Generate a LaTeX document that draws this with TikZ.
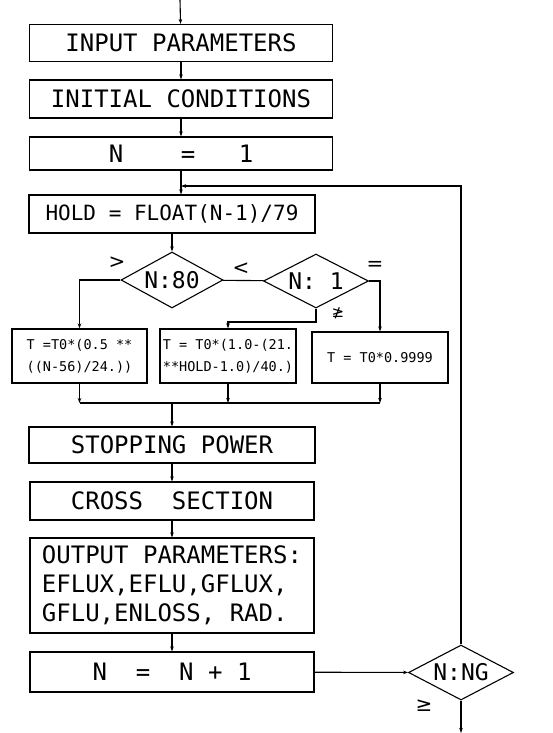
\documentclass[tikz,border=0pt]{standalone}
\usepackage{fontspec}
\setmonofont{DejaVu Sans Mono}
\newfontfamily\symfont{DejaVu Sans}
\usetikzlibrary{positioning, arrows.meta, shapes.geometric}
\begin{document}
\begin{tikzpicture}[x=1pt, y=-1pt, line width=1.1pt, >={Stealth[length=5pt, width=3.5pt]},
    procbox/.style={draw, rectangle, inner sep=0pt, align=center, font=\ttfamily\fontsize{24}{29}\selectfont},
    smallbox/.style={draw, rectangle, inner sep=0pt, align=center, font=\ttfamily\fontsize{13.5}{22}\selectfont},
    testbox/.style={draw, diamond, aspect=1.9, inner sep=0pt, font=\ttfamily\fontsize{23}{25}\selectfont},
    sign/.style={inner sep=0pt, font=\symfont\fontsize{20}{20}\selectfont}]
  \useasboundingbox (0,0) rectangle (553,733);
  \coordinate (start) at (180,0);
  \node[procbox, minimum width=303pt, minimum height=37pt] (inpar) at (181,43) {INPUT PARAMETERS};
  \node[procbox, minimum width=303pt, minimum height=38pt] (incond) at (181,99) {INITIAL CONDITIONS};
  \node[procbox, minimum width=303pt, minimum height=33pt] (nstart) at (181,153.5) {N~~~~=~~~1};
  \node[procbox, minimum width=286pt, minimum height=38pt, font=\ttfamily\fontsize{21}{25}\selectfont] (hold) at (172,214) {HOLD = FLOAT(N-1)/79};
  \node[testbox, minimum width=102pt, minimum height=56pt] (test80) at (172,280) {N:80};
  \node[testbox, minimum width=105pt, minimum height=54pt] (test1) at (316,281) {N: 1};
  \node[smallbox, minimum width=135pt, minimum height=54pt] (tleft) at (79.5,356) {T =T0*(0.5 **\\((N-56)/24.))};
  \node[smallbox, minimum width=136pt, minimum height=54pt] (tmid) at (228,356) {T = T0*(1.0-(21.\\**HOLD-1.0)/40.)};
  \node[smallbox, minimum width=136pt, minimum height=51pt] (tright) at (380,357.5) {T = T0*0.9999};
  \node[procbox, minimum width=286pt, minimum height=36pt] (stop) at (172,445) {STOPPING POWER};
  \node[procbox, minimum width=284pt, minimum height=38pt] (cross) at (172,501) {CROSS~~SECTION};
  \node[procbox, minimum width=284pt, minimum height=95pt, align=left] (output) at (172,585.5) {OUTPUT PARAMETERS:\\EFLUX,EFLU,GFLUX,\\GFLU,ENLOSS, RAD.};
  \node[procbox, minimum width=284pt, minimum height=40pt] (nnext) at (172,672) {N~~=~~N~+~1};
  \node[testbox, minimum width=105pt, minimum height=55pt] (testng) at (461,672.5) {N:NG};
  \coordinate (loop) at (181,186);
  \coordinate (branch) at (228,322);
  \coordinate (merge) at (172,403);
  \coordinate (finish) at (461,733);
  \node[sign] (gt80) at (117,263) {>};
  \node[sign] (lt80) at (241,269) {<};
  \node[sign] (eq1) at (375,266) {=};
  \node[sign, font=\symfont\fontsize{15}{15}\selectfont] (ngeq1) at (338,313) {≱};
  \node[sign] (geng) at (424,706) {≥};
  \draw[->] (start) -- (inpar);
  \draw[->] (inpar) -- (incond);
  \draw[->] (incond) -- (nstart);
  \draw[->] (nstart) -- (nstart.south |- hold.north);
  \draw[->] (testng.north) |- (loop);
  \draw[->] (hold) -- (test80);
  \draw (test80) -- (test1);
  \draw[->] (test80.west) -| (tleft.north);
  \draw[->] (test1.south) |- (branch) -- (tmid.north);
  \draw[->] (test1.east) -| (tright.north);
  \draw[->] (tleft.south) -- (tleft.south |- merge);
  \draw[->] (tmid.south) -- (tmid.south |- merge);
  \draw[->] (tright.south) -- (tright.south |- merge);
  \draw (tleft.south |- merge) -- (tright.south |- merge);
  \draw[->] (merge) -- (stop);
  \draw[->] (stop) -- (cross);
  \draw[->] (cross) -- (output);
  \draw[->] (output) -- (nnext);
  \draw[->] (nnext) -- (testng);
  \draw[->] (testng.south) -- (finish);
\end{tikzpicture}
\end{document}
